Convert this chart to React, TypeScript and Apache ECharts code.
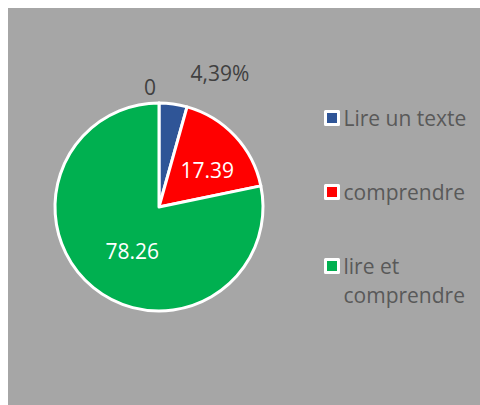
import React, { useEffect, useRef } from "react";
import * as echarts from "echarts";

const categories = ["", "Lire un texte", "comprendre", "lire et comprendre"];
const values = [0, 4.35, 17.39, 78.26];
const labelTexts = ["0", "4,39%", "17.39", "78.26"];
const colors = ["#2F5597", "#2F5597", "#FF0000", "#00B050"];
const legendLabels = ["Lire un texte", "comprendre", "\nlire et\ncomprendre"];

export default function App() {
  const ref = useRef<HTMLDivElement>(null);
  useEffect(() => {
    if (!ref.current) return;
    const chart = echarts.init(ref.current, undefined, { renderer: "svg" });
    const font = "'Open Sans', sans-serif";
    const legendTops = [95.5, 169.5, 214.5];
    const legends = [1, 2, 3].map((ci, i) => ({
      orient: "vertical",
      left: 316,
      top: legendTops[i],
      padding: 0,
      data: [categories[ci]],
      icon: "rect",
      itemWidth: 13,
      itemHeight: 13,
      selectedMode: false,
      itemStyle: { borderColor: "#FFFFFF", borderWidth: 3 },
      formatter: () => legendLabels[i],
      textStyle: {
        color: "#595959",
        fontSize: 21,
        fontFamily: font,
        lineHeight: 29,
      },
    }));
    chart.setOption({
      animation: false,
      backgroundColor: "#A6A6A6",
      legend: legends,
      series: [
        {
          type: "pie",
          center: [151, 199],
          radius: 104,
          startAngle: 90,
          clockwise: true,
          avoidLabelOverlap: false,
          itemStyle: { borderColor: "#FFFFFF", borderWidth: 3 },
          labelLine: { show: false },
          label: {
            fontFamily: font,
            fontSize: 21,
          },
          labelLayout: (p: any) => {
            if (p.dataIndex === 0) {
              return { x: 142, y: 79, align: "center", verticalAlign: "middle" };
            }
            if (p.dataIndex === 1) {
              return { x: 212, y: 65, align: "center", verticalAlign: "middle" };
            }
            return { dx: 8, dy: 1 };
          },
          data: values.map((v, i) => ({
            name: categories[i],
            value: v,
            itemStyle: { color: colors[i] },
            label: {
              show: true,
              formatter: labelTexts[i],
              position: i >= 2 ? "inside" : "outside",
              color: i >= 2 ? "#FFFFFF" : "#404040",
            },
          })),
        },
      ],
    });
    return () => chart.dispose();
  }, []);
  return (
    <div
      ref={ref}
      style={{ position: "fixed", left: 8, top: 8, width: 472, height: 397 }}
    />
  );
}
